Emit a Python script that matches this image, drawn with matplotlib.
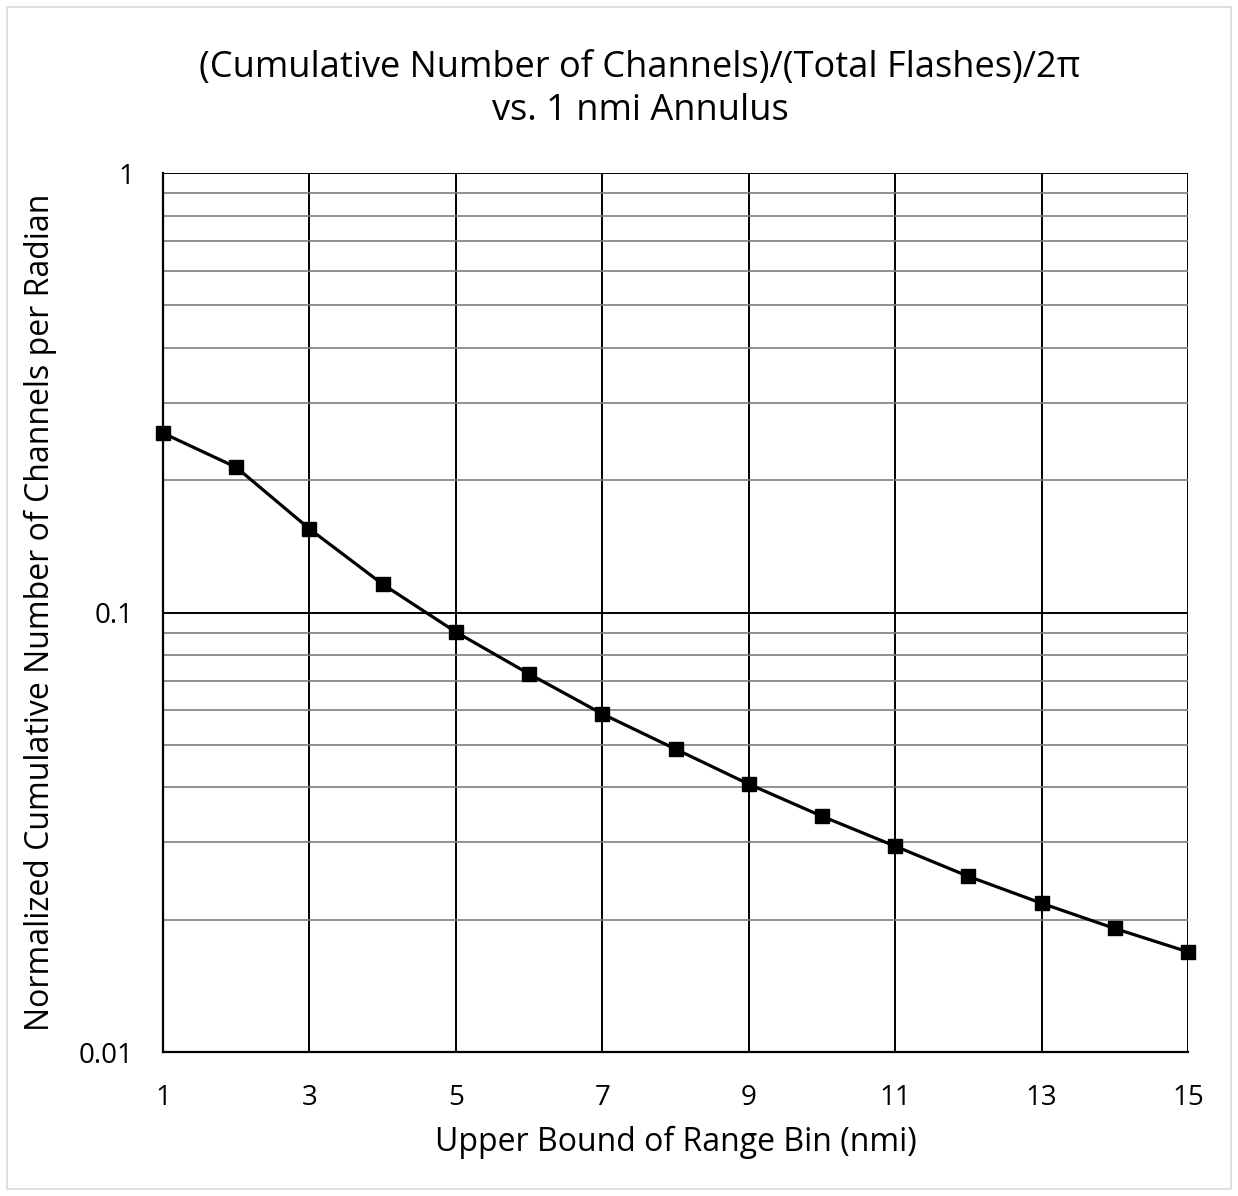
import matplotlib.pyplot as plt
from matplotlib.patches import Rectangle

# upper bound of each 1 nmi range bin
range_bins = [1, 2, 3, 4, 5, 6, 7, 8, 9, 10, 11, 12, 13, 14, 15]
# normalized cumulative channels per radian
channels_per_rad = [0.256, 0.214, 0.155, 0.116, 0.0903, 0.0725, 0.0588, 0.0489,
                    0.0407, 0.0344, 0.0294, 0.0251, 0.0218, 0.0191, 0.0169]
x_ticks = [1, 3, 5, 7, 9, 11, 13, 15]
y_ticks = [0.01, 0.1, 1]
y_tick_labels = ["0.01", "0.1", "1"]

plt.rcParams['font.family'] = ['Open Sans', 'DejaVu Sans']

fig = plt.figure(figsize=(12.38, 11.96), dpi=100)
ax = fig.add_axes([0.1317, 0.1204, 0.8279, 0.7349])

ax.plot(range_bins, channels_per_rad, color='black', lw=2.3, marker='s',
        markersize=10, zorder=5, clip_on=False)

ax.set_yscale('log')
ax.set_xlim(1, 15)
ax.set_ylim(0.01, 1)
ax.set_xticks(x_ticks)
ax.set_xticklabels([str(t) for t in x_ticks])
ax.set_yticks(y_ticks)
ax.set_yticklabels(y_tick_labels)
ax.yaxis.set_minor_formatter(plt.NullFormatter())

ax.grid(True, which='major', axis='both', color='black', lw=1.4)
ax.grid(True, which='minor', axis='y', color='#7f7f7f', lw=1.2)
ax.tick_params(which='both', length=0, labelsize=20)
ax.tick_params(axis='x', pad=23)
ax.tick_params(axis='y', pad=21)

for side in ['top', 'right']:
    ax.spines[side].set_visible(False)
for side in ['left', 'bottom']:
    ax.spines[side].set_linewidth(1.6)

ax.set_xlabel("Upper Bound of Range Bin (nmi)", fontsize=23, labelpad=10)
ax.set_ylabel("Normalized Cumulative Number of Channels per Radian", fontsize=23,
              labelpad=16)
fig.text(0.517, 0.925, "(Cumulative Number of Channels)/(Total Flashes)/2π\nvs. 1 nmi Annulus",
         ha='center', va='center', fontsize=26, linespacing=1.28)

# thin frame around the whole chart
fig.patches.append(Rectangle((0.0057, 0.0059), 0.9886, 0.9883, transform=fig.transFigure,
                             fill=False, edgecolor='#d9d9d9', lw=1.2))

fig.savefig("out.png", dpi=100)
